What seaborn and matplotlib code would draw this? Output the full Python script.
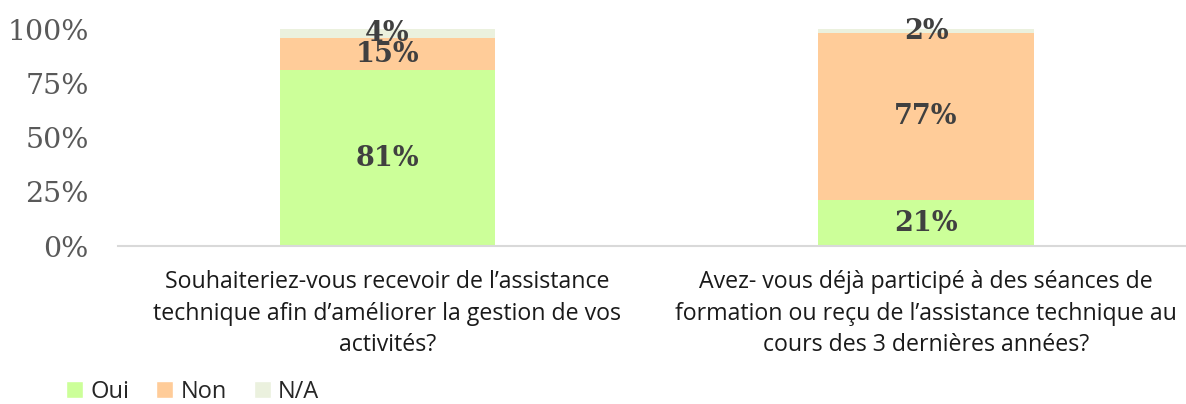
import pandas as pd
import matplotlib.pyplot as plt
import seaborn as sns
from matplotlib.patches import Patch

questions = [
    "Souhaiteriez-vous recevoir de l\u2019assistance\ntechnique afin d\u2019am\u00e9liorer la gestion de vos\nactivit\u00e9s?",
    "Avez- vous d\u00e9j\u00e0 particip\u00e9 \u00e0 des s\u00e9ances de\nformation ou re\u00e7u de l\u2019assistance technique au\ncours des 3 derni\u00e8res ann\u00e9es?",
]
oui = [81, 21]
non = [15, 77]
na = [4, 2]

series = ['Oui', 'Non', 'N/A']
colors = {'Oui': '#ccff99', 'Non': '#ffcc99', 'N/A': '#ebf1de'}

sns.set_theme(style="white")

df = pd.DataFrame({'question': questions, 'Oui': oui, 'Non': non, 'N/A': na})
df['c_oui'] = df['Oui']
df['c_non'] = df['Oui'] + df['Non']
df['c_na'] = df['Oui'] + df['Non'] + df['N/A']

fig, ax = plt.subplots(figsize=(11.86, 4.04), dpi=100)

# stacked bars drawn as cumulative totals, tallest first
for col, name in [('c_na', 'N/A'), ('c_non', 'Non'), ('c_oui', 'Oui')]:
    sns.barplot(data=df, x='question', y=col, color=colors[name],
                width=0.4, saturation=1, ax=ax, linewidth=0)

serif = ['DejaVu Serif']
sans = ['Open Sans', 'DejaVu Sans']
for i, row in df.iterrows():
    bottom = 0
    for name in series:
        v = row[name]
        ax.text(i, bottom + v / 2, f"{v}%", ha='center', va='center',
                fontsize=19.5, fontweight='bold', color='#404040', family=serif)
        bottom += v

ax.set_ylim(0, 100)
ax.set_xlim(-0.5, 1.5)
ax.set_yticks([0, 25, 50, 75, 100])
ax.set_yticklabels([f"{t}%" for t in [0, 25, 50, 75, 100]],
                   family=serif, fontsize=20.5, color='#595959')
ax.set_xticks([0, 1])
ax.set_xticklabels(questions, fontsize=16.7, color='#1a1a1a',
                   family=sans, linespacing=1.4)
ax.tick_params(axis='y', length=0, pad=21)
ax.tick_params(axis='x', length=0, pad=17.5)
ax.set_xlabel('')
ax.set_ylabel('')
for s in ['top', 'right', 'left']:
    ax.spines[s].set_visible(False)
ax.spines['bottom'].set_color('#d9d9d9')
ax.spines['bottom'].set_linewidth(1.5)

handles = [Patch(facecolor=colors[n], label=n) for n in series]
fig.legend(handles=handles, loc='lower left', bbox_to_anchor=(0.0556, 0.0),
           ncol=3, frameon=False, borderaxespad=0, borderpad=0,
           handlelength=0.72, handleheight=0.72,
           handletextpad=0.3, columnspacing=1.15,
           prop={'family': sans, 'size': 17})

plt.subplots_adjust(left=0.0995, right=1.008, top=0.928, bottom=0.391)
plt.savefig('out.png', dpi=100)
plt.close()
